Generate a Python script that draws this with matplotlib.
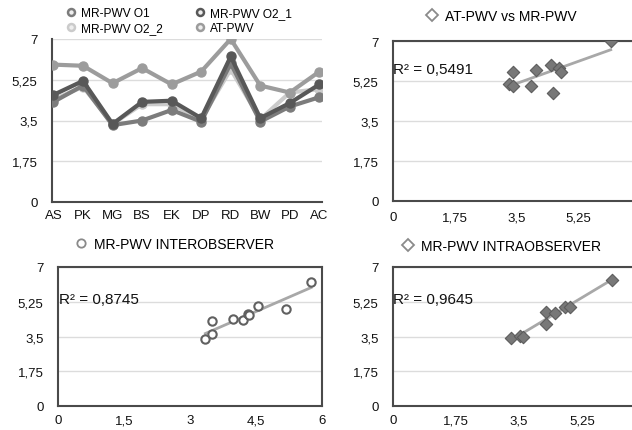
import numpy as np
import matplotlib
matplotlib.use('Agg')
import matplotlib.pyplot as plt
from matplotlib.lines import Line2D

plt.rcParams['font.family'] = ['Liberation Sans', 'DejaVu Sans']

# PWV per subject (m/s)
subjects = ['AS', 'PK', 'MG', 'BS', 'EK', 'DP', 'RD', 'BW', 'PD', 'AC']
mr_o1 = [4.3, 5.0, 3.3, 3.5, 3.95, 3.45, 5.95, 3.45, 4.1, 4.5]
mr_o2_1 = [4.6, 5.2, 3.35, 4.3, 4.35, 3.6, 6.25, 3.6, 4.25, 5.05]
mr_o2_2 = [4.4, 4.95, 3.35, 4.2, 4.2, 3.55, 5.7, 3.55, 4.7, 4.85]
at_pwv = [5.9, 5.85, 5.1, 5.75, 5.05, 5.6, 7.0, 5.0, 4.7, 5.6]

# AT-PWV vs MR-PWV
cmp_x = [3.29, 3.41, 3.41, 3.92, 4.06, 4.48, 4.54, 4.70, 4.76, 6.17]
cmp_y = [5.11, 5.65, 5.01, 5.04, 5.73, 5.94, 4.72, 5.84, 5.65, 7.0]
cmp_r2 = '0,5491'

# interobserver
inter_x = [3.35, 3.49, 3.51, 3.98, 4.21, 4.32, 4.35, 4.55, 5.18, 5.75]
inter_y = [3.38, 3.62, 4.28, 4.37, 4.33, 4.62, 4.58, 5.05, 4.88, 6.25]
inter_r2 = '0,8745'

# intraobserver
intra_x = [3.29, 3.53, 3.60, 4.24, 4.24, 4.51, 4.77, 4.91, 6.09]
intra_y = [3.44, 3.53, 3.50, 4.75, 4.12, 4.67, 5.01, 4.97, 6.37]
intra_r2 = '0,9645'

yticks = [0, 1.75, 3.5, 5.25, 7]
ytick_labels = ['0', '1,75', '3,5', '5,25', '7']

W, H = 632, 431
fig = plt.figure(figsize=(W / 100, H / 100), dpi=100)
fig.patch.set_facecolor('white')

GRID = '#dcdcdc'
SPINE = '#4a4a4a'
TXT = '#111111'


def px_axes(left, top, right, bottom):
    return fig.add_axes([left / W, 1 - bottom / H, (right - left) / W, (bottom - top) / H])


def style_axes(ax, box=True):
    ax.set_ylim(0, 7)
    ax.set_yticks(yticks)
    ax.set_yticklabels(ytick_labels)
    ax.grid(axis='y', color=GRID, linewidth=1)
    ax.set_axisbelow(True)
    ax.tick_params(length=0, labelsize=9.5, colors=TXT)
    ax.tick_params(axis='y', pad=10.5)
    for side in ['left', 'bottom', 'top', 'right']:
        ax.spines[side].set_color(SPINE)
        ax.spines[side].set_linewidth(1.5)
    if not box:
        ax.spines['top'].set_visible(False)
        ax.spines['right'].set_visible(False)


def title_legend(ax, label, marker, mx, my):
    h = Line2D([], [], ls='none', marker=marker, markersize=6,
               markerfacecolor='white', markeredgecolor='#8a8a8a', markeredgewidth=1.3)
    ax.legend([h], [label], loc='center left', bbox_to_anchor=(mx / W, 1 - my / H),
              bbox_transform=fig.transFigure, frameon=False, fontsize=10,
              handlelength=0.8, handletextpad=0.6, borderpad=0, borderaxespad=0)


def trend(ax, x, y):
    x = np.asarray(x)
    k, b = np.polyfit(x, y, 1)
    xs = np.array([x.min(), x.max()])
    ax.plot(xs, k * xs + b, color='#a8a8a8', linewidth=2, zorder=2)


# ── Line chart ──
ax1 = px_axes(52, 40, 322, 203)
pos = np.arange(len(subjects))
series = [
    (mr_o2_2, 'MR-PWV O2_2', '#cbcbcb'),
    (mr_o1, 'MR-PWV O1', '#7c7c7c'),
    (mr_o2_1, 'MR-PWV O2_1', '#585858'),
    (at_pwv, 'AT-PWV', '#9c9c9c'),
]
handles = {}
for vals, name, col in series:
    ax1.plot(pos, vals, color=col, linewidth=3.0, marker='o', markersize=6.5, zorder=3)
    handles[name] = Line2D([], [], ls='none', marker='o', markersize=5,
                           markerfacecolor='#eeeeee', markeredgecolor=col, markeredgewidth=1.8)
ax1.set_xlim(-0.05, 9.09)
ax1.set_xticks(pos)
ax1.set_xticklabels(subjects)
style_axes(ax1, box=False)
ax1.tick_params(axis='x', pad=5)
order = ['MR-PWV O1', 'MR-PWV O2_2', 'MR-PWV O2_1', 'AT-PWV']
ax1.legend([handles[n] for n in order], order, ncol=2, loc='upper left',
           bbox_to_anchor=(66 / W, 1 - 8 / H), bbox_transform=fig.transFigure,
           frameon=False, fontsize=8.6, handlelength=0.8, handletextpad=0.45,
           columnspacing=2.7, labelspacing=0.25, borderpad=0, borderaxespad=0)

# ── AT-PWV vs MR-PWV ──
ax2 = px_axes(393, 42, 640, 202)
ax2.scatter(cmp_x, cmp_y, marker='D', s=40, color='#787878', edgecolors='#5c5c5c',
            linewidths=0.8, zorder=3)
trend(ax2, cmp_x, cmp_y)
ax2.set_xlim(0, 7)
ax2.set_xticks([0, 1.75, 3.5, 5.25])
ax2.set_xticklabels(['0', '1,75', '3,5', '5,25'])
style_axes(ax2)
ax2.tick_params(axis='x', pad=7.5)
ax2.text(0.005, 5.78, 'R² = ' + cmp_r2, fontsize=11, color=TXT, va='center', zorder=4)
title_legend(ax2, 'AT-PWV vs MR-PWV', 'D', 426, 17)

# ── Interobserver ──
ax3 = px_axes(58, 268, 322, 407)
ax3.scatter(inter_x, inter_y, marker='o', s=36, facecolors='white', edgecolors='#606060',
            linewidths=1.5, zorder=3)
trend(ax3, inter_x, inter_y)
ax3.set_xlim(0, 6)
ax3.set_xticks([0, 1.5, 3, 4.5, 6])
ax3.set_xticklabels(['0', '1,5', '3', '4,5', '6'])
style_axes(ax3)
ax3.tick_params(axis='x', pad=6)
ax3.text(0.02, 5.4, 'R² = ' + inter_r2, fontsize=11, color=TXT, va='center', zorder=4)
title_legend(ax3, 'MR-PWV INTEROBSERVER', 'o', 75, 245)

# ── Intraobserver ──
ax4 = px_axes(393, 268, 645, 407)
ax4.scatter(intra_x, intra_y, marker='D', s=40, color='#787878', edgecolors='#5c5c5c',
            linewidths=0.8, zorder=3)
trend(ax4, intra_x, intra_y)
ax4.set_xlim(0, 7)
ax4.set_xticks([0, 1.75, 3.5, 5.25])
ax4.set_xticklabels(['0', '1,75', '3,5', '5,25'])
style_axes(ax4)
ax4.tick_params(axis='x', pad=6)
ax4.text(0.005, 5.4, 'R² = ' + intra_r2, fontsize=11, color=TXT, va='center', zorder=4)
title_legend(ax4, 'MR-PWV INTRAOBSERVER', 'D', 402, 247)

fig.savefig('out.png', dpi=100, facecolor='white')
